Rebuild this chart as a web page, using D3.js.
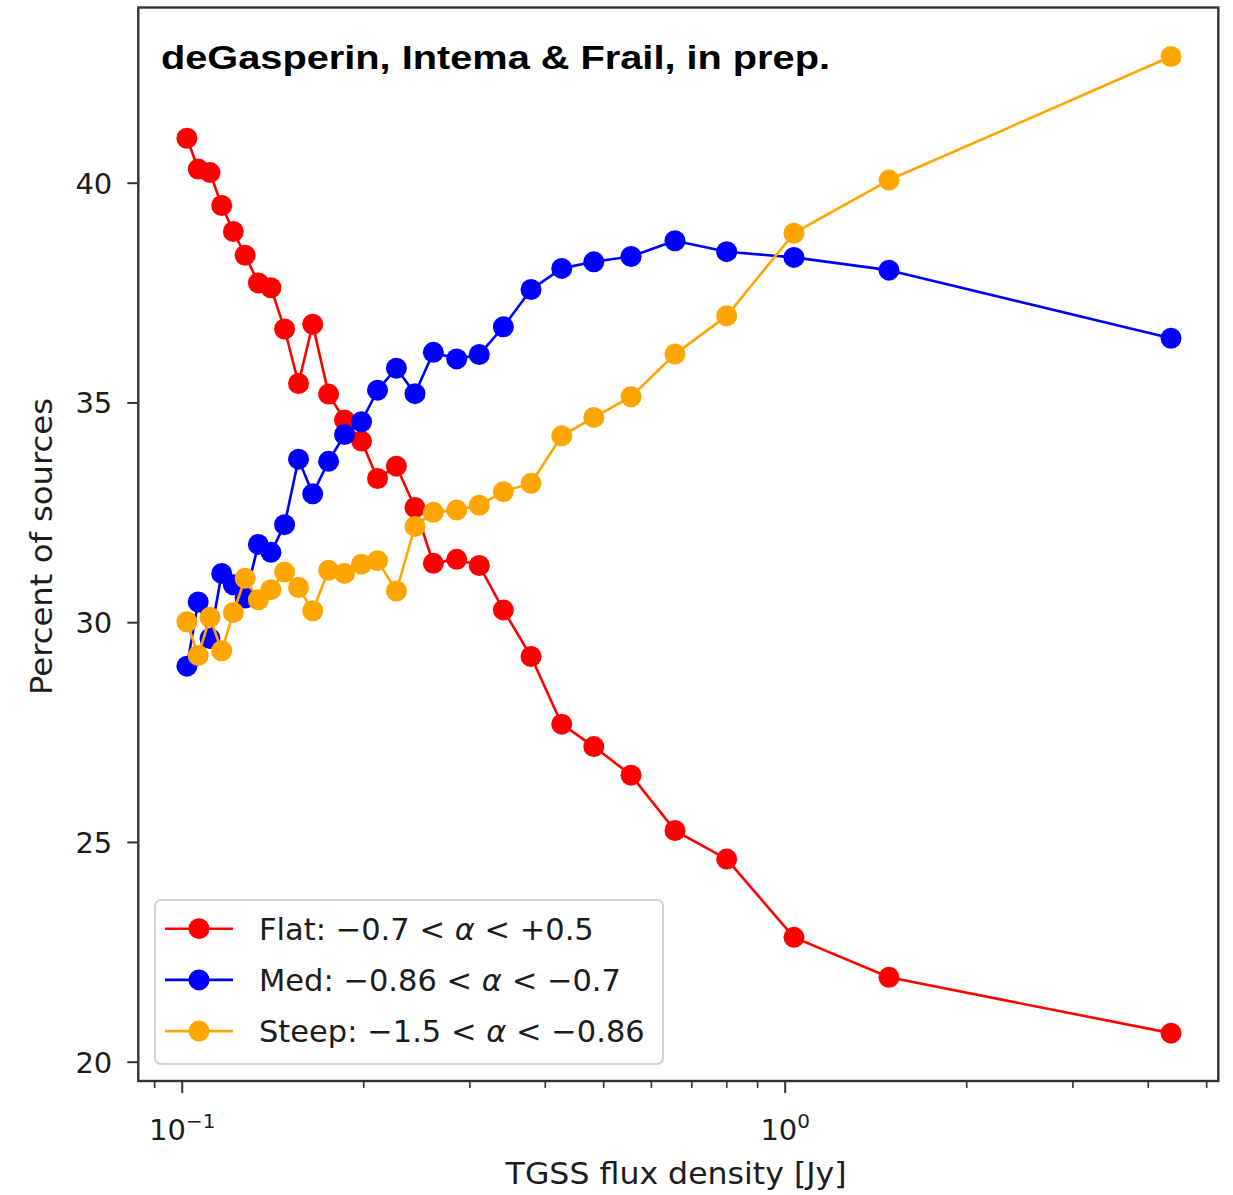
<!DOCTYPE html>
<html>
<head>
<meta charset="utf-8">
<script src="https://cdn.jsdelivr.net/npm/d3@7"></script>
<style>
  html, body { margin: 0; padding: 0; background: #ffffff; }
  svg { display: block; }
</style>
</head>
<body>
<div id="chart"></div>
<script>
// ---------------- data ----------------
const fluxBins = [0.1020, 0.1065, 0.1114, 0.1165, 0.1218, 0.1274, 0.1340, 0.1406, 0.1481, 0.1562,
                  0.1649, 0.1752, 0.1862, 0.1987, 0.2112, 0.2270, 0.2437, 0.2614, 0.2858, 0.3115,
                  0.3415, 0.3796, 0.4268, 0.4824, 0.5561, 0.6577, 0.8013, 1.036, 1.489, 4.372];

const flatPct  = [41.01, 40.31, 40.23, 39.48, 38.89, 38.35, 37.72, 37.61, 36.67, 35.43,
                  36.78, 35.19, 34.60, 34.12, 33.27, 33.55, 32.61, 31.34, 31.43, 31.29,
                  30.28, 29.22, 27.68, 27.17, 26.52, 25.26, 24.61, 22.83, 21.92, 20.65];

const medPct   = [29.00, 30.46, 29.63, 31.11, 30.85, 30.55, 31.77, 31.59, 32.22, 33.71,
                  32.92, 33.66, 34.27, 34.56, 35.28, 35.78, 35.20, 36.14, 35.99, 36.09,
                  36.72, 37.57, 38.05, 38.20, 38.32, 38.68, 38.43, 38.30, 38.01, 36.46];

const steepPct = [30.01, 29.24, 30.11, 29.35, 30.22, 31.00, 30.51, 30.74, 31.14, 30.79,
                  30.26, 31.18, 31.11, 31.32, 31.40, 30.71, 32.18, 32.50, 32.55, 32.66,
                  32.97, 33.16, 34.24, 34.66, 35.13, 36.10, 36.97, 38.85, 40.06, 42.87];

const seriesNames  = ["Flat", "Med", "Steep"];
const seriesColors = ["#ff0000", "#0000ff", "#ffa500"];
const legendRanges = [["−0.7 < ", " < +0.5"], ["−0.86 < ", " < −0.7"], ["−1.5 < ", " < −0.86"]];

const yTicks = [20, 25, 30, 35, 40];
const xMajorTicks = [0.1, 1];
const xMajorExp = ["−1", "0"];
const xMinorTicks = [0.09, 0.2, 0.3, 0.4, 0.5, 0.6, 0.7, 0.8, 0.9, 2, 3, 4, 5];

const titleText = "deGasperin, Intema & Frail, in prep.";
const xLabel = "TGSS flux density [Jy]";
const yLabel = "Percent of sources";

// ---------------- layout ----------------
const W = 1233, H = 1195;
const plot = { left: 138.3, top: 7.5, right: 1218.3, bottom: 1081 };

const svg = d3.select("#chart").append("svg")
  .attr("width", W).attr("height", H)
  .attr("viewBox", `0 0 ${W} ${H}`);

const x = d3.scaleLog().domain([0.08472, 5.237]).range([plot.left, plot.right]);
const y = d3.scaleLinear().domain([19.561, 43.986]).range([plot.bottom, plot.top]);

const FONT = "'DejaVu Sans', sans-serif";
const TEXT = "#1c1c1c";

// clip
svg.append("defs").append("clipPath").attr("id", "plotclip")
  .append("rect").attr("x", plot.left).attr("y", plot.top)
  .attr("width", plot.right - plot.left).attr("height", plot.bottom - plot.top);

// ---------------- series ----------------
const seriesData = [flatPct, medPct, steepPct];
const line = d3.line().x(d => x(d[0])).y(d => y(d[1]));

const gPlot = svg.append("g").attr("clip-path", "url(#plotclip)");
seriesData.forEach((vals, i) => {
  const pts = fluxBins.map((f, k) => [f, vals[k]]);
  const g = gPlot.append("g");
  g.append("path").datum(pts)
    .attr("d", line)
    .attr("fill", "none")
    .attr("stroke", seriesColors[i])
    .attr("stroke-width", 2.6)
    .attr("stroke-linejoin", "round");
  g.selectAll("circle").data(pts).enter().append("circle")
    .attr("cx", d => x(d[0]))
    .attr("cy", d => y(d[1]))
    .attr("r", 10.5)
    .attr("fill", seriesColors[i]);
});

// ---------------- axes ----------------
const spineColor = "#333333";

// y axis
const yAxis = svg.append("g")
  .attr("transform", `translate(${plot.left},0)`)
  .call(d3.axisLeft(y).tickValues(yTicks).tickSize(11).tickPadding(15).tickFormat(d3.format("d")));
yAxis.select(".domain").remove();
yAxis.selectAll(".tick line").attr("stroke", spineColor).attr("stroke-width", 2);
yAxis.selectAll(".tick text")
  .attr("font-family", FONT).attr("font-size", 29).attr("fill", TEXT)
  .attr("dy", "0.36em");

// x axis minor ticks
const xMinor = svg.append("g")
  .attr("transform", `translate(0,${plot.bottom})`)
  .call(d3.axisBottom(x).tickValues(xMinorTicks).tickSize(7).tickFormat(""));
xMinor.select(".domain").remove();
xMinor.selectAll(".tick line").attr("stroke", spineColor).attr("stroke-width", 1.6);

// x axis major ticks
const xMajor = svg.append("g")
  .attr("transform", `translate(0,${plot.bottom})`)
  .call(d3.axisBottom(x).tickValues(xMajorTicks).tickSize(12).tickFormat(""));
xMajor.select(".domain").remove();
xMajor.selectAll(".tick line").attr("stroke", spineColor).attr("stroke-width", 2);
xMajor.selectAll(".tick").each(function(d, i) {
  const t = d3.select(this).append("text")
    .attr("y", 59).attr("text-anchor", "middle")
    .attr("font-family", FONT).attr("font-size", 29).attr("fill", TEXT);
  t.append("tspan").text("10");
  t.append("tspan").attr("dy", -12).attr("font-size", 20).text(xMajorExp[i]);
});

// spines
svg.append("rect")
  .attr("x", plot.left).attr("y", plot.top)
  .attr("width", plot.right - plot.left).attr("height", plot.bottom - plot.top)
  .attr("fill", "none").attr("stroke", spineColor).attr("stroke-width", 2.4);

// axis labels
svg.append("text")
  .attr("x", 505.6).attr("y", 1184)
  .attr("font-family", FONT).attr("font-size", 31).attr("fill", TEXT)
  .attr("textLength", 341).attr("lengthAdjust", "spacingAndGlyphs")
  .text(xLabel);

svg.append("text")
  .attr("transform", "translate(52,695) rotate(-90)")
  .attr("x", 0).attr("y", 0)
  .attr("font-family", FONT).attr("font-size", 31).attr("fill", TEXT)
  .attr("textLength", 297).attr("lengthAdjust", "spacingAndGlyphs")
  .text(yLabel);

// title
svg.append("text")
  .attr("x", 161).attr("y", 68.5)
  .attr("font-family", "'Liberation Sans', Arial, sans-serif")
  .attr("font-weight", "bold").attr("font-size", 34).attr("fill", "#000")
  .attr("textLength", 669).attr("lengthAdjust", "spacingAndGlyphs")
  .text(titleText);

// ---------------- legend ----------------
const legend = svg.append("g");
legend.append("rect")
  .attr("x", 155).attr("y", 900).attr("width", 508).attr("height", 164)
  .attr("rx", 6).attr("ry", 6)
  .attr("fill", "#ffffff").attr("fill-opacity", 0.85)
  .attr("stroke", "#d2d2d2").attr("stroke-width", 2);

seriesNames.forEach((name, i) => {
  const cy = 928.7 + i * 51.2;
  legend.append("line")
    .attr("x1", 165).attr("x2", 233).attr("y1", cy).attr("y2", cy)
    .attr("stroke", seriesColors[i]).attr("stroke-width", 2.6);
  legend.append("circle")
    .attr("cx", 199).attr("cy", cy).attr("r", 10.5)
    .attr("fill", seriesColors[i]);
  const t = legend.append("text")
    .attr("x", 259).attr("y", cy + 11)
    .attr("font-family", FONT).attr("font-size", 30.5).attr("fill", TEXT);
  t.append("tspan").text(name + ": " + legendRanges[i][0]);
  t.append("tspan").attr("font-style", "italic").text("α");
  t.append("tspan").text(legendRanges[i][1]);
});
</script>
</body>
</html>
